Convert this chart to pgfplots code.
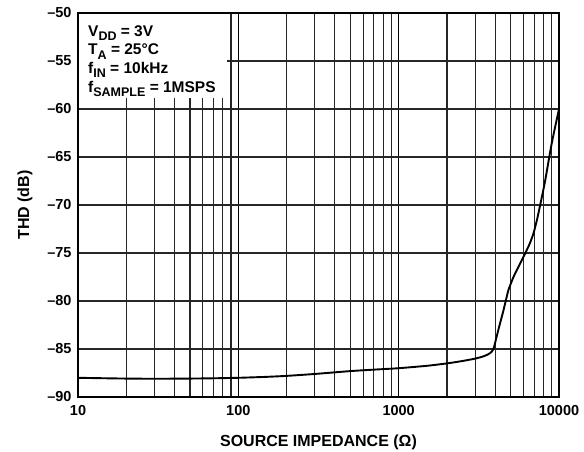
\documentclass[border=0pt]{standalone}
\usepackage{pgfplots}
\pgfplotsset{compat=1.18}
\usepackage{fontspec}
\setmainfont{Liberation Sans}
\newcommand{\sub}[1]{\raisebox{-4.5pt}{\fontsize{12.5}{13}\selectfont #1}}

\begin{document}
\begin{tikzpicture}
 \useasboundingbox (0,0) rectangle (584pt,451pt);
 \begin{axis}[
   at={(78pt,54pt)}, anchor=south west,
   scale only axis, width=481pt, height=384pt,
   xmode=log, xmin=10, xmax=10000,
   ymin=-90, ymax=-50,
   xtick={10,100,1000,10000},
   xticklabels={10,100,1000,10000},
   ytick={-90,-85,...,-50},
   yticklabels={--90,--85,--80,--75,--70,--65,--60,--55,--50},
   minor xtick={20,30,40,50,60,70,80,90,200,300,400,500,600,700,800,900,2000,3000,4000,5000,6000,7000,8000,9000},
   xmajorgrids, ymajorgrids, xminorgrids,
   major x grid style={black, line width=1.6pt},
   major y grid style={black!85, line width=1.2pt},
   minor x grid style={black!85, line width=1.2pt},
   major tick length=0pt, minor tick length=0pt,
   axis line style={black, line width=1.8pt},
   tick label style={font=\fontsize{14.5}{16}\selectfont\bfseries},
   yticklabel style={xshift=-3pt},
   xticklabel style={yshift=-5pt},
   xlabel={SOURCE IMPEDANCE (Ω)},
   ylabel={THD (dB)},
   label style={font=\fontsize{16}{18}\selectfont\bfseries},
   xlabel style={yshift=-12pt},
   ylabel style={yshift=8pt},
 ]
  \fill[white] ([xshift=1pt,yshift=-1pt]rel axis cs:0,1) rectangle (rel axis cs:0.31,0.779);
  \node[anchor=north west, align=left, inner sep=0pt,
        font=\fontsize{15.5}{18.7}\selectfont\bfseries]
    at ([xshift=10pt,yshift=-12pt]rel axis cs:0,1)
    {V\sub{DD} = 3V\\T\sub{A} = 25°C\\f\sub{IN} = 10kHz\\f\sub{SAMPLE} = 1MSPS};
  \addplot[black, line width=1.9pt, smooth, tension=0.35] coordinates {
   (10,-88.0) (15,-88.05) (20,-88.08) (30,-88.1) (50,-88.08) (70,-88.05)
   (100,-88.0) (150,-87.9) (200,-87.8) (300,-87.6) (500,-87.3) (700,-87.15)
   (1000,-87.0) (1500,-86.75) (2000,-86.5) (2500,-86.25) (3000,-86.0)
   (3400,-85.75) (3700,-85.45) (3900,-85.0) (4200,-82.9) (4500,-81.0)
   (4830,-78.9) (5200,-77.5) (5600,-76.4) (6000,-75.4) (6500,-74.2)
   (6920,-73.0) (7300,-71.5) (7700,-69.7) (8190,-67.5) (9000,-63.6) (10000,-60)
  };
 \end{axis}
\end{tikzpicture}
\end{document}
